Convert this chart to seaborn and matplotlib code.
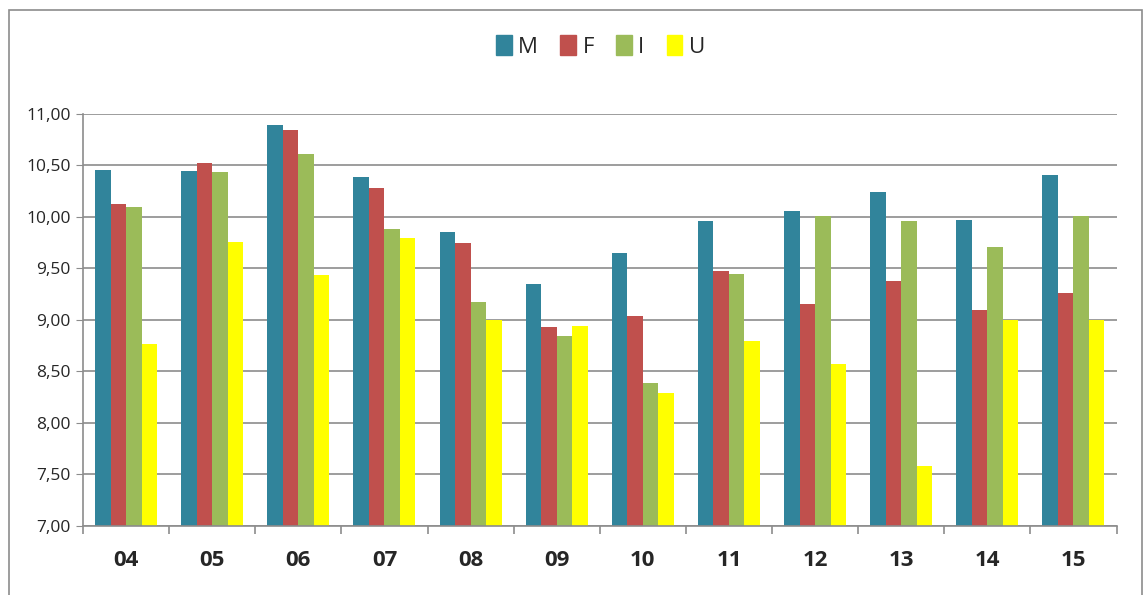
import pandas as pd
import matplotlib.pyplot as plt
import matplotlib.patches as mpatches
from matplotlib.ticker import FuncFormatter, FixedLocator
import seaborn as sns

# dados
anos = ["04", "05", "06", "07", "08", "09", "10", "11", "12", "13", "14", "15"]
serie_m = [10.46, 10.45, 10.89, 10.39, 9.85, 9.35, 9.65, 9.96, 10.06, 10.24, 9.97, 10.41]
serie_f = [10.13, 10.52, 10.84, 10.28, 9.75, 8.93, 9.04, 9.48, 9.16, 9.38, 9.10, 9.26]
serie_i = [10.10, 10.44, 10.61, 9.88, 9.17, 8.84, 8.39, 9.45, 10.01, 9.96, 9.71, 10.01]
serie_u = [8.77, 9.76, 9.44, 9.80, 9.00, 8.94, 8.29, 8.80, 8.57, 7.58, 9.00, 9.00]
grupos = ["M", "F", "I", "U"]
cores = ["#31849B", "#C0504D", "#9BBB59", "#FFFF00"]

df = pd.DataFrame({"ano": anos, "M": serie_m, "F": serie_f, "I": serie_i, "U": serie_u})
df_long = df.melt(id_vars="ano", var_name="grupo", value_name="valor")

sns.set_style("white")
plt.rcParams["font.family"] = ["Open Sans", "DejaVu Sans"]

fig = plt.figure(figsize=(11.44, 5.95), dpi=100)
ax = fig.add_axes([0.0726, 0.116, 0.9034, 0.6924])

sns.barplot(data=df_long, x="ano", y="valor", hue="grupo", hue_order=grupos,
            palette=cores, width=0.72, ax=ax, legend=False, saturation=1, linewidth=0)

ax.set_ylim(7, 11)
ax.set_xlim(-0.5, len(anos) - 0.5)
ax.set_yticks([7 + 0.5 * k for k in range(9)])
ax.yaxis.set_major_formatter(FuncFormatter(lambda v, p: f"{v:.2f}".replace(".", ",")))
ax.grid(axis="y", color="#8c8c8c", linewidth=1.2)
ax.set_axisbelow(True)

for lado in ["top", "right"]:
    ax.spines[lado].set_visible(False)
for lado in ["left", "bottom"]:
    ax.spines[lado].set_color("#8c8c8c")
    ax.spines[lado].set_linewidth(1.2)

ax.tick_params(axis="y", left=True, length=5, color="#8c8c8c", labelsize=12.5, pad=4)
ax.tick_params(axis="x", bottom=False, labelsize=16, pad=14)
for t in ax.get_xticklabels():
    t.set_fontweight("bold")
ax.xaxis.set_minor_locator(FixedLocator([k - 0.5 for k in range(len(anos) + 1)]))
ax.tick_params(axis="x", which="minor", bottom=True, length=6, color="#8c8c8c", width=1.2)
ax.set_xlabel("")
ax.set_ylabel("")

handles = [mpatches.Patch(color=c, label=g) for g, c in zip(grupos, cores)]
fig.legend(handles=handles, loc="center", bbox_to_anchor=(0.525, 0.922), ncol=4,
           frameon=False, fontsize=16, handlelength=0.7, handleheight=1.0,
           handletextpad=0.3, columnspacing=1.0)

# moldura da área do gráfico
fig.add_artist(mpatches.Rectangle((9 / 1144, -0.05), 1 - 9 / 1144 - 2 / 1144, 1.05 - 10 / 595,
                                  transform=fig.transFigure, fill=False,
                                  edgecolor="#8c8c8c", linewidth=1.2))

fig.savefig("out.png", dpi=100)
